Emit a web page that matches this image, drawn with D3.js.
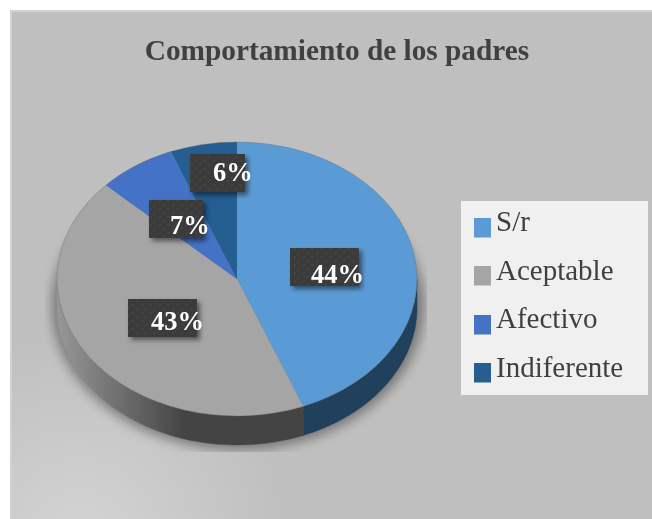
<!DOCTYPE html>
<html><head><meta charset="utf-8">
<script src="https://cdn.jsdelivr.net/npm/d3@7/dist/d3.min.js"></script>
<style>html,body{margin:0;padding:0;background:#fff}svg{display:block;filter:blur(0.45px)}text{font-family:"Liberation Serif",serif}</style>
</head><body><div id="c"></div>
<script>
const categories = ["S/r","Aceptable","Afectivo","Indiferente"];
const values = [44,43,7,6];
const labels = ["44%","43%","7%","6%"];
const topColors = ["#5b9bd5","#a5a5a5","#4472c4","#255e91"];
const wallColors = ["#21405c","url(#wallGray)","#2a4578","#163a5a"];
const title = "Comportamiento de los padres";

const W=652,H=519,cx=237,cy=279,rx=180,ry=137,depth=29;
const svg=d3.select("#c").append("svg").attr("width",W).attr("height",H);
const defs=svg.append("defs");

const bg=defs.append("radialGradient").attr("id","bgGlow").attr("gradientUnits","userSpaceOnUse")
  .attr("cx",80).attr("cy",540).attr("r",210);
bg.append("stop").attr("offset",0).attr("stop-color","#d4d4d4");
bg.append("stop").attr("offset",1).attr("stop-color","#bfbfbf");

const wg=defs.append("linearGradient").attr("id","wallGray").attr("gradientUnits","userSpaceOnUse")
  .attr("x1",57).attr("x2",185).attr("y1",0).attr("y2",0);
[[0,"#979797"],[.45,"#727272"],[1,"#444444"]].forEach(d=>wg.append("stop").attr("offset",d[0]).attr("stop-color",d[1]));

defs.append("filter").attr("id","blur").attr("x","-20%").attr("y","-20%").attr("width","140%").attr("height","140%")
  .append("feGaussianBlur").attr("stdDeviation",6);
const ds=defs.append("filter").attr("id","boxShadow").attr("x","-20%").attr("y","-20%").attr("width","150%").attr("height","160%");
ds.append("feDropShadow").attr("dx",3).attr("dy",3).attr("stdDeviation",2.5).attr("flood-color","#000").attr("flood-opacity",.5);
defs.append("clipPath").attr("id","shClip").append("rect").attr("x",45).attr("y",130).attr("width",382).attr("height",322);

const pat=defs.append("pattern").attr("id","tex").attr("patternUnits","userSpaceOnUse").attr("width",9).attr("height",8);
pat.append("rect").attr("width",9).attr("height",8).attr("fill","#3a3a3a");
pat.append("path").attr("d","M1 6L3 4M6 2L8 0").attr("stroke","#4e4c4a").attr("stroke-width",1);

// background card
svg.append("rect").attr("x",10).attr("y",10).attr("width",W-10).attr("height",H-10).attr("fill","#d2d2d2");
svg.append("rect").attr("x",12).attr("y",12).attr("width",W-12).attr("height",H-12).attr("fill","url(#bgGlow)");

svg.append("text").attr("x",337).attr("y",60).attr("text-anchor","middle")
  .attr("font-size",29.3).attr("font-weight","bold").attr("fill","#404040").text(title);

// pie
const pie=d3.pie().sort(null).value(d=>d)(values);
const px=a=>cx+rx*Math.sin(a), py=a=>cy-ry*Math.cos(a);

// soft shadow
svg.append("g").attr("clip-path","url(#shClip)").append("ellipse")
  .attr("cx",cx+1).attr("cy",cy+depth-2).attr("rx",rx+6).attr("ry",ry+7)
  .attr("fill","#000").attr("opacity",.38).attr("filter","url(#blur)");

// side walls
const line=d3.line();
const g=svg.append("g");
pie.forEach((s,i)=>{
  const a0=Math.max(s.startAngle,Math.PI/2), a1=Math.min(s.endAngle,3*Math.PI/2);
  if(a1<=a0) return;
  const ang=d3.range(0,61).map(k=>a0+(a1-a0)*k/60);
  const pts=ang.map(a=>[px(a),py(a)]).concat(ang.slice().reverse().map(a=>[px(a),py(a)+depth]));
  g.append("path").attr("d",line(pts)+"Z").attr("fill",wallColors[i]).attr("stroke",wallColors[i]).attr("stroke-width",.4);
});

// top surface
const arc=d3.arc().innerRadius(0).outerRadius(rx);
svg.append("g").attr("transform",`translate(${cx},${cy}) scale(1,${ry/rx})`)
  .selectAll("path").data(pie).join("path").attr("d",arc).attr("fill",(d,i)=>topColors[i]);
svg.append("ellipse").attr("cx",cx).attr("cy",cy).attr("rx",rx).attr("ry",ry)
  .attr("fill","none").attr("stroke","#666").attr("stroke-opacity",.35).attr("stroke-width",1);

// data labels
const boxW=[69,69,54,55], boxH=38;
const boxX=[290,128,149,190], boxY=[248,299,200,154];
const textX=[311,151,170,213], textY=[283,330,234,181];
const lb=svg.append("g");
labels.forEach((t,i)=>{
  lb.append("rect").attr("x",boxX[i]).attr("y",boxY[i]).attr("width",boxW[i]).attr("height",boxH)
    .attr("fill","url(#tex)").attr("filter","url(#boxShadow)");
});
labels.forEach((t,i)=>{
  lb.append("text").attr("x",textX[i]).attr("y",textY[i]).attr("font-size",26.5).attr("font-weight","bold")
    .attr("fill","#fff").text(t);
});

// legend
svg.append("rect").attr("x",461).attr("y",201).attr("width",187).attr("height",194).attr("fill","#f0f0f0");
const swY=[218,266,315,363], txtY=[231,280,328,377];
categories.forEach((c,i)=>{
  svg.append("rect").attr("x",474).attr("y",swY[i]).attr("width",17).attr("height",19.5).attr("fill",topColors[i]);
  svg.append("text").attr("x",496).attr("y",txtY[i]).attr("font-size",29).attr("fill","#404040").text(c);
});
</script></body></html>
